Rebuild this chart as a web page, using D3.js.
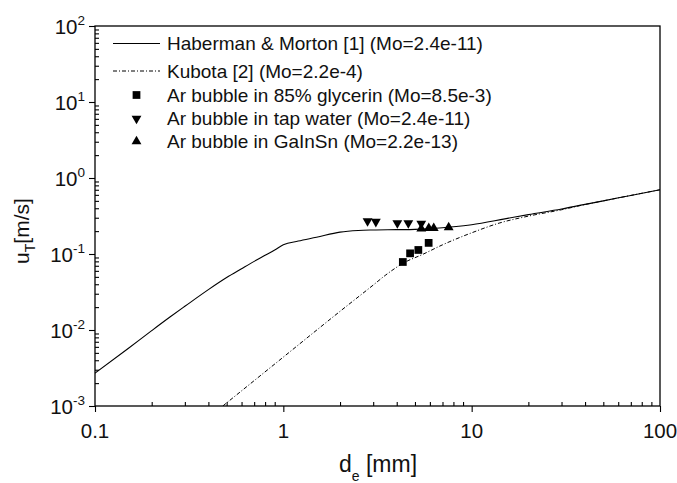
<!DOCTYPE html>
<html>
<head>
<meta charset="utf-8">
<script src="https://cdn.jsdelivr.net/npm/d3@7"></script>
<style>
  html, body { margin: 0; padding: 0; background: #fff; }
  svg { display: block; font-family: "Liberation Sans", Arial, sans-serif; }
</style>
</head>
<body>
<svg id="chart" width="677" height="483"></svg>
<script>
// ---------- data ----------
const habD = [0.1, 0.15, 0.2, 0.25, 0.3, 0.4, 0.5, 0.6, 0.7, 0.8, 0.9, 1.0, 1.2, 1.5, 2.0, 2.5, 3.0, 4.0, 5.0, 6.0, 7.0, 8.0, 10, 15, 20, 30, 40, 50, 70, 100];
const habU = [0.0027, 0.0057, 0.0098, 0.0148, 0.0205, 0.034, 0.049, 0.064, 0.080, 0.096, 0.113, 0.132, 0.148, 0.166, 0.194, 0.204, 0.207, 0.209, 0.211, 0.215, 0.221, 0.228, 0.243, 0.29, 0.33, 0.39, 0.45, 0.50, 0.59, 0.70];

const kubD = [0.477, 1.0, 2.0, 3.0, 3.5, 4.34, 5.5, 7.0, 10, 14, 20, 30, 40, 50, 70, 100];
const kubU = [0.001, 0.0044, 0.0176, 0.039, 0.053, 0.076, 0.099, 0.132, 0.19, 0.255, 0.315, 0.382, 0.448, 0.50, 0.59, 0.70];

const glyD = [4.31, 4.71, 5.21, 5.91];
const glyU = [0.0785, 0.102, 0.113, 0.14];

const tapD = [2.8, 3.1, 4.03, 4.61, 5.4];
const tapU = [0.272, 0.266, 0.256, 0.256, 0.252];

const ganD = [5.4, 5.92, 6.29, 7.55];
const ganU = [0.216, 0.219, 0.219, 0.224];

const xMajor = [0.1, 1, 10, 100];
const xMajorLabels = ["0.1", "1", "10", "100"];
const yMajor = [1e-3, 1e-2, 1e-1, 1e0, 1e1, 1e2];
const yExponents = ["-3", "-2", "-1", "0", "1", "2"];

const legendLabels = [
  "Haberman & Morton [1] (Mo=2.4e-11)",
  "Kubota [2] (Mo=2.2e-4)",
  "Ar bubble in 85% glycerin (Mo=8.5e-3)",
  "Ar bubble in tap water (Mo=2.4e-11)",
  "Ar bubble in GaInSn (Mo=2.2e-13)"
];

// ---------- layout ----------
const L = 95, R = 660, T = 26, B = 406;
const svg = d3.select("#chart");
const x = d3.scaleLog().domain([0.1, 100]).range([L, R]);
const y = d3.scaleLog().domain([1e-3, 1e2]).range([B, T]);

function minors(lo, hi) {
  const out = [];
  for (let e = Math.log10(lo); e < Math.log10(hi); e++) {
    for (let k = 2; k <= 9; k++) out.push(k * Math.pow(10, e));
  }
  return out;
}

svg.append("defs").append("clipPath").attr("id", "clip")
  .append("rect").attr("x", L).attr("y", T).attr("width", R - L).attr("height", B - T);

// axes: minor ticks inward, major ticks outward
const axStroke = 1.3;
const gx = svg.append("g").attr("transform", `translate(0,${B})`);
gx.append("g").call(d3.axisBottom(x).tickValues(minors(0.1, 100)).tickSize(-4).tickSizeOuter(0).tickFormat(""));
gx.append("g").call(d3.axisBottom(x).tickValues(xMajor).tickSize(6).tickSizeOuter(0).tickFormat(""));
const gy = svg.append("g").attr("transform", `translate(${L},0)`);
gy.append("g").call(d3.axisLeft(y).tickValues(minors(1e-3, 1e2)).tickSize(-4).tickSizeOuter(0).tickFormat(""));
gy.append("g").call(d3.axisLeft(y).tickValues(yMajor).tickSize(6).tickSizeOuter(0).tickFormat(""));
svg.selectAll(".domain").remove();
svg.selectAll(".tick line").attr("stroke", "#000").attr("stroke-width", 1.1);

// frame
svg.append("rect").attr("x", L).attr("y", T).attr("width", R - L).attr("height", B - T)
  .attr("fill", "none").attr("stroke", "#000").attr("stroke-width", axStroke);

// x tick labels
svg.append("g").selectAll("text").data(xMajor).join("text")
  .attr("x", d => x(d)).attr("y", B + 32)
  .attr("text-anchor", "middle").attr("font-size", 20.5).attr("fill", "#111")
  .text((d, i) => xMajorLabels[i]);

// y tick labels
const yl = svg.append("g").selectAll("text").data(yMajor).join("text")
  .attr("x", L - 10).attr("y", d => y(d) + 7.5)
  .attr("text-anchor", "end").attr("font-size", 20.5).attr("fill", "#111");
yl.append("tspan").text("10");
yl.append("tspan").attr("font-size", 13.5).attr("dy", -9).text((d, i) => yExponents[i]);

// axis titles
const xt = svg.append("text").attr("x", 378).attr("y", 471.5)
  .attr("text-anchor", "middle").attr("font-size", 23).attr("fill", "#111");
xt.append("tspan").text("d");
xt.append("tspan").attr("font-size", 14).attr("dy", 9).text("e");
xt.append("tspan").attr("dy", -9).text(" [mm]");

const yt = svg.append("text")
  .attr("transform", "translate(29,231) rotate(-90)")
  .attr("text-anchor", "middle").attr("font-size", 21).attr("fill", "#111");
yt.append("tspan").text("u");
yt.append("tspan").attr("font-size", 14).attr("dy", 6).text("T");
yt.append("tspan").attr("dy", -6).text("[m/s]");

// curves
const plot = svg.append("g").attr("clip-path", "url(#clip)");
const line = d3.line().x(d => x(d[0])).y(d => y(d[1])).curve(d3.curveMonotoneX);
plot.append("path").datum(habD.map((d, i) => [d, habU[i]]))
  .attr("d", line).attr("fill", "none").attr("stroke", "#000").attr("stroke-width", 1.1);
plot.append("path").datum(kubD.map((d, i) => [d, kubU[i]]))
  .attr("d", line).attr("fill", "none").attr("stroke", "#000").attr("stroke-width", 1)
  .attr("stroke-dasharray", "4,2,1,2");

// markers
const sq = d3.symbol().type(d3.symbolSquare).size(60);
const tri = d3.symbol().type(d3.symbolTriangle).size(42);
plot.append("g").selectAll("path").data(glyD.map((d, i) => [d, glyU[i]])).join("path")
  .attr("d", sq).attr("transform", d => `translate(${x(d[0])},${y(d[1])})`).attr("fill", "#000");
plot.append("g").selectAll("path").data(tapD.map((d, i) => [d, tapU[i]])).join("path")
  .attr("d", tri).attr("transform", d => `translate(${x(d[0])},${y(d[1])}) rotate(180)`).attr("fill", "#000");
plot.append("g").selectAll("path").data(ganD.map((d, i) => [d, ganU[i]])).join("path")
  .attr("d", tri).attr("transform", d => `translate(${x(d[0])},${y(d[1])})`).attr("fill", "#000");

// legend
const lg = svg.append("g");
const rowsY = [43.5, 71, 95, 118.5, 141.5];
lg.append("line").attr("x1", 113).attr("x2", 160).attr("y1", rowsY[0]).attr("y2", rowsY[0])
  .attr("stroke", "#000").attr("stroke-width", 1.1);
lg.append("line").attr("x1", 113).attr("x2", 160).attr("y1", rowsY[1]).attr("y2", rowsY[1])
  .attr("stroke", "#000").attr("stroke-width", 1).attr("stroke-dasharray", "4,2,1,2");
lg.append("path").attr("d", sq).attr("transform", `translate(136.5,${rowsY[2]})`);
lg.append("path").attr("d", tri).attr("transform", `translate(136.5,${rowsY[3]}) rotate(180)`);
lg.append("path").attr("d", tri).attr("transform", `translate(136.5,${rowsY[4]})`);
lg.selectAll("text").data(legendLabels).join("text")
  .attr("x", 167).attr("y", (d, i) => rowsY[i] + 6.8)
  .attr("font-size", 19).attr("fill", "#111").text(d => d);
</script>
</body>
</html>
